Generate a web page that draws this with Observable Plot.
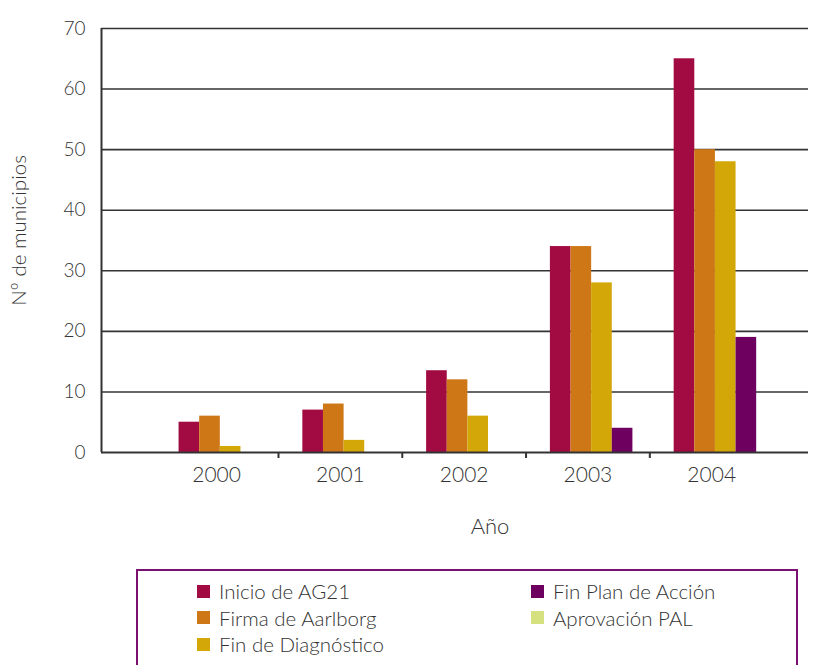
<!DOCTYPE html>
<html>
<head>
<meta charset="utf-8">
<script src="https://cdn.jsdelivr.net/npm/d3@7"></script>
<script src="https://cdn.jsdelivr.net/npm/@observablehq/plot@0.6"></script>
<style>
  html, body { margin: 0; padding: 0; background: #fff; }
  body { width: 822px; height: 665px; overflow: hidden; font-family: Lato, "Open Sans", sans-serif; font-weight: 300; color: #333; }
  #legend {
    position: absolute; left: 136px; top: 569px; width: 658px; height: 120px;
    border: 2px solid #7b1070; box-sizing: content-box;
  }
  .item { position: absolute; display: flex; align-items: center; font-size: 20.5px; line-height: 1; white-space: nowrap; }
  .sw { width: 13px; height: 13px; margin-right: 9px; flex: none; }
</style>
</head>
<body>
<div id="chart"></div>
<div id="legend"></div>
<script>
const years = ["2000", "2001", "2002", "2003", "2004"];
const seriesNames = ["Inicio de AG21", "Firma de Aarlborg", "Fin de Diagnóstico", "Fin Plan de Acción", "Aprovación PAL"];
const seriesColors = ["#a20a42", "#ce7716", "#d3a707", "#6e0060", "#d5e07e"];
const inicio = [5, 7, 13.5, 34, 65];
const firma = [6, 8, 12, 34, 50];
const diagnostico = [1, 2, 6, 28, 48];
const finPlan = [0, 0, 0, 4, 19];
const aprovacion = [0, 0, 0, 0, 0];
const yTicks = [0, 10, 20, 30, 40, 50, 60, 70];
const yLabel = "Nº de municipios";
const xLabel = "Año";

const seriesValues = [inicio, firma, diagnostico, finPlan, aprovacion];
const slots = seriesNames.length + 1; // first slot of each year left empty
const rows = [];
years.forEach((year, i) => {
  seriesNames.forEach((name, k) => {
    rows.push({year, i, k, name, value: seriesValues[k][i]});
  });
});
const xDomain = [-0.93, 4.782];
const yearIdx = years.map((_, i) => i);
const between = years.slice(1).map((_, i) => i + 0.5);

const chart = Plot.plot({
  width: 822,
  height: 555,
  marginLeft: 101,
  marginRight: 14,
  marginTop: 28,
  marginBottom: 103,
  style: {fontFamily: "Lato, 'Open Sans', sans-serif", fontWeight: 300, color: "#333", background: "#fff"},
  x: {type: "linear", domain: xDomain},
  y: {domain: [0, 70]},
  color: {domain: seriesNames, range: seriesColors},
  marks: [
    Plot.ruleY(yTicks.slice(1), {stroke: "#333", strokeWidth: 1.6}),
    Plot.rectY(rows.filter(d => d.value > 0), {
      x1: d => d.i - 0.5 + (d.k + 1) / slots + 0.03,
      x2: d => d.i - 0.5 + (d.k + 2) / slots + 0.03,
      y1: 0, y2: "value", fill: "name"
    }),
    Plot.ruleY([0], {stroke: "#333", strokeWidth: 2}),
    Plot.ruleX([xDomain[0]], {stroke: "#333", strokeWidth: 2}),
    Plot.axisY({ticks: yTicks, tickSize: 0, tickPadding: 16, fontSize: 19, label: null}),
    Plot.text([yLabel], {frameAnchor: "left", textAnchor: "middle", lineAnchor: "middle", rotate: -90, dx: -82, dy: -10, fontSize: 20.5, text: d => d, fill: "#333"}),
    Plot.axisX({ticks: yearIdx, tickFormat: i => years[i], tickSize: 0, tickPadding: 15, fontSize: 21, label: null}),
    Plot.axisX({ticks: between, tickFormat: () => "", tickSize: 6, stroke: "#333", strokeWidth: 2, label: null}),
    Plot.text([xLabel], {frameAnchor: "bottom", dx: 35, dy: 81, fontSize: 22, text: d => d, fill: "#333"})
  ]
});
document.getElementById("chart").appendChild(chart);

const legend = document.getElementById("legend");
const positions = [[59, 21], [59, 47.5], [59, 74], [393, 21], [393, 47.5]];
seriesNames.forEach((name, k) => {
  const it = document.createElement("div");
  it.className = "item";
  it.style.left = positions[k][0] + "px";
  it.style.top = (positions[k][1] - 11) + "px";
  const sw = document.createElement("span");
  sw.className = "sw";
  sw.style.background = seriesColors[k];
  const t = document.createElement("span");
  t.textContent = name;
  it.appendChild(sw);
  it.appendChild(t);
  legend.appendChild(it);
});
</script>
</body>
</html>
